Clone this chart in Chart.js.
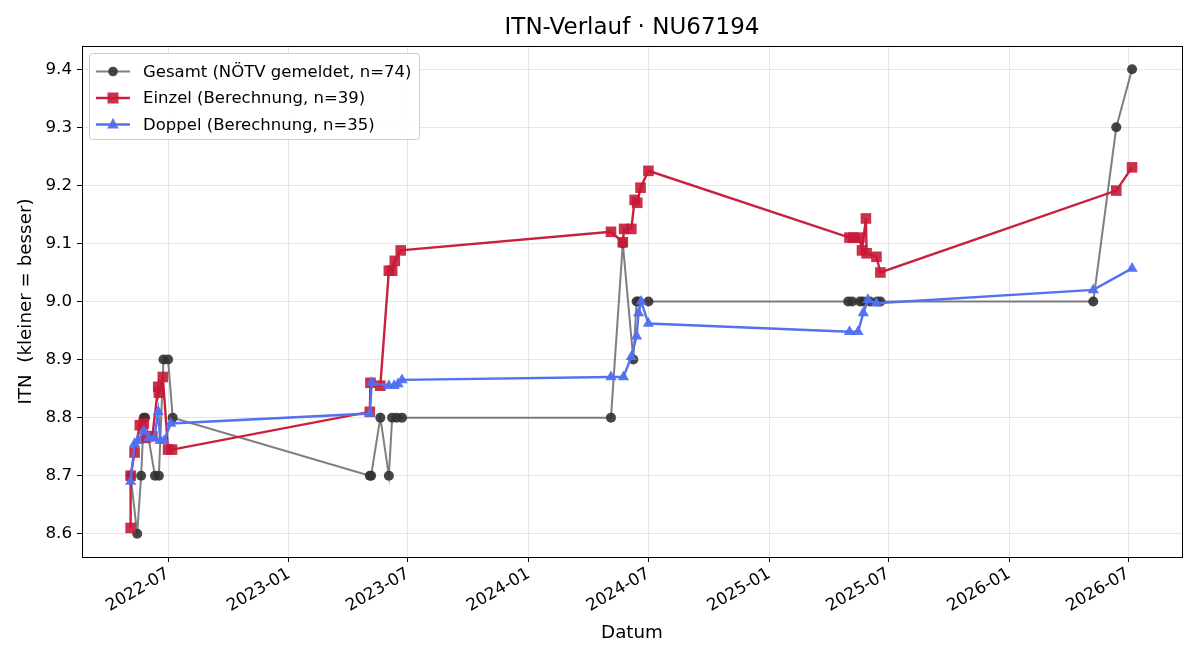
<!DOCTYPE html>
<html lang="de">
<head>
<meta charset="utf-8">
<title>ITN-Verlauf</title>
<script src="https://cdn.jsdelivr.net/npm/chart.js@4.4.1/dist/chart.umd.min.js"></script>
<style>
  html, body { margin: 0; padding: 0; background: #fff; }
  #chart { display: block; }
</style>
</head>
<body>
<canvas id="chart" width="1200" height="660"></canvas>
<script>
// Gesamt (NÖTV gemeldet)
const gesamtDates = [
  '2022-05-05', '2022-05-15', '2022-05-21', '2022-05-25', '2022-05-27', '2022-06-11', '2022-06-17',
  '2022-06-24', '2022-07-01', '2022-07-08',
  '2023-05-04', '2023-05-06', '2023-05-20', '2023-06-02', '2023-06-07', '2023-06-14', '2023-06-22',
  '2024-05-05', '2024-05-23', '2024-06-08', '2024-06-13', '2024-06-16', '2024-07-01',
  '2025-05-01', '2025-05-07', '2025-05-19', '2025-05-24', '2025-06-03', '2025-06-14', '2025-06-19',
  '2026-05-09', '2026-06-13', '2026-07-07'
];
const gesamtValues = [
  8.7, 8.6, 8.7, 8.8, 8.8, 8.7, 8.7,
  8.9, 8.9, 8.8,
  8.7, 8.7, 8.8, 8.7, 8.8, 8.8, 8.8,
  8.8, 9.1, 8.9, 9.0, 9.0, 9.0,
  9.0, 9.0, 9.0, 9.0, 9.0, 9.0, 9.0,
  9.0, 9.3, 9.4
];

// Einzel (Berechnung)
const einzelDates = [
  '2022-05-05', '2022-05-05', '2022-05-11', '2022-05-19', '2022-05-25', '2022-05-28', '2022-06-07',
  '2022-06-16', '2022-06-17', '2022-06-23', '2022-07-01', '2022-07-07',
  '2023-05-04', '2023-05-05', '2023-05-20', '2023-06-02', '2023-06-07', '2023-06-11', '2023-06-20',
  '2024-05-05', '2024-05-23', '2024-05-25', '2024-06-05', '2024-06-10', '2024-06-14', '2024-06-19', '2024-07-01',
  '2025-05-03', '2025-05-09', '2025-05-18', '2025-05-22', '2025-05-28', '2025-05-29', '2025-06-13', '2025-06-19',
  '2026-06-13', '2026-07-07'
];
const einzelValues = [
  8.61, 8.70, 8.74, 8.787, 8.79, 8.765, 8.768,
  8.853, 8.843, 8.87, 8.745, 8.745,
  8.81, 8.86, 8.855, 9.053, 9.053, 9.07, 9.088,
  9.12, 9.102, 9.125, 9.125, 9.175, 9.17, 9.196, 9.225,
  9.11, 9.11, 9.11, 9.088, 9.143, 9.083, 9.077, 9.05,
  9.191, 9.231
];

// Doppel (Berechnung)
const doppelDates = [
  '2022-05-05', '2022-05-11', '2022-05-16', '2022-05-25', '2022-06-02', '2022-06-10', '2022-06-16',
  '2022-06-19', '2022-06-25', '2022-07-05',
  '2023-05-04', '2023-05-07', '2023-06-02', '2023-06-10', '2023-06-16', '2023-06-22',
  '2024-05-05', '2024-05-24', '2024-06-05', '2024-06-13', '2024-06-16', '2024-06-20', '2024-07-01',
  '2025-05-03', '2025-05-16', '2025-05-24', '2025-05-31', '2025-06-13',
  '2026-05-09', '2026-07-07'
];
const doppelValues = [
  8.69, 8.755, 8.76, 8.777, 8.765, 8.765, 8.81,
  8.76, 8.76, 8.79,
  8.807, 8.86, 8.855, 8.855, 8.858, 8.865,
  8.87, 8.87, 8.905, 8.94, 8.98, 9.0, 8.962,
  8.948, 8.948, 8.98, 9.003, 8.997,
  9.02, 9.057
];

// Axis ticks
const xTickLabels = ['2022-07', '2023-01', '2023-07', '2024-01', '2024-07', '2025-01', '2025-07', '2026-01', '2026-07'];
const yTickValues = [8.6, 8.7, 8.8, 8.9, 9.0, 9.1, 9.2, 9.3, 9.4];

const chartTitle = 'ITN-Verlauf · NU67194';
const FONT = 'DejaVu Sans';

function toPoints(dates, values) {
  return dates.map((d, i) => ({ x: Date.parse(d), y: values[i] }));
}

function pad2(n) {
  return (n < 10 ? '0' : '') + n;
}

const series = [
  {
    label: 'Gesamt (NÖTV gemeldet, n=74)',
    line: 'rgba(95,95,95,0.8)',
    marker: 'rgba(50,50,50,0.9)',
    style: 'circle',
    radius: 5
  },
  {
    label: 'Einzel (Berechnung, n=39)',
    line: '#c8203e',
    marker: 'rgba(200,25,55,0.9)',
    style: 'rect',
    radius: 7.5
  },
  {
    label: 'Doppel (Berechnung, n=35)',
    line: '#5472ee',
    marker: 'rgba(80,112,238,0.95)',
    style: 'triangle',
    radius: 6.5
  }
];

// Title centred over the plot area, like matplotlib
const titlePlugin = {
  id: 'plotTitle',
  afterDraw(chart) {
    const { ctx, chartArea } = chart;
    ctx.save();
    ctx.fillStyle = '#000';
    ctx.font = '23px "' + FONT + '"';
    ctx.textAlign = 'center';
    ctx.textBaseline = 'middle';
    ctx.fillText(chartTitle, (chartArea.left + chartArea.right) / 2, 28);
    ctx.restore();
  }
};

// Black frame round the plot area (matplotlib spines)
const framePlugin = {
  id: 'frame',
  afterDatasetsDraw(chart) {
    const { ctx, chartArea } = chart;
    ctx.save();
    ctx.strokeStyle = '#000';
    ctx.lineWidth = 1;
    ctx.strokeRect(Math.round(chartArea.left) + 0.5, Math.round(chartArea.top) + 0.5,
      Math.round(chartArea.right - chartArea.left), Math.round(chartArea.bottom - chartArea.top));
    ctx.restore();
  }
};

// Legend box in the upper left corner
const legendPlugin = {
  id: 'boxLegend',
  afterDraw(chart) {
    const ctx = chart.ctx;
    const x0 = 89, y0 = 53, w = 330, h = 86;
    ctx.save();
    ctx.fillStyle = 'rgba(255,255,255,0.85)';
    ctx.strokeStyle = '#cccccc';
    ctx.lineWidth = 1;
    ctx.beginPath();
    ctx.roundRect(x0 + 0.5, y0 + 0.5, w, h, 3);
    ctx.fill();
    ctx.stroke();

    series.forEach((s, i) => {
      const cy = y0 + 18.5 + i * 26.5;
      ctx.strokeStyle = s.line;
      ctx.lineWidth = i === 0 ? 2 : 2.4;
      ctx.beginPath();
      ctx.moveTo(96, cy);
      ctx.lineTo(130, cy);
      ctx.stroke();

      ctx.fillStyle = s.marker;
      ctx.beginPath();
      if (s.style === 'circle') {
        ctx.arc(113, cy, 4.8, 0, Math.PI * 2);
      } else if (s.style === 'rect') {
        ctx.rect(113 - 5.5, cy - 5.5, 11, 11);
      } else {
        ctx.moveTo(113, cy - 6.5);
        ctx.lineTo(113 + 5.8, cy + 4);
        ctx.lineTo(113 - 5.8, cy + 4);
        ctx.closePath();
      }
      ctx.fill();

      ctx.fillStyle = '#000';
      ctx.font = '16.5px "' + FONT + '"';
      ctx.textBaseline = 'middle';
      ctx.textAlign = 'left';
      ctx.fillText(s.label, 143, cy + 1);
    });
    ctx.restore();
  }
};

const allPoints = [
  toPoints(gesamtDates, gesamtValues),
  toPoints(einzelDates, einzelValues),
  toPoints(doppelDates, doppelValues)
];

const ctx = document.getElementById('chart');

new Chart(ctx, {
  type: 'line',
  data: {
    datasets: series.map((s, i) => ({
      label: s.label,
      data: allPoints[i],
      borderColor: s.line,
      borderWidth: i === 0 ? 2 : 2.4,
      backgroundColor: s.marker,
      pointStyle: s.style,
      pointRadius: s.radius,
      pointBackgroundColor: s.marker,
      pointBorderColor: s.marker,
      pointBorderWidth: 0,
      tension: 0,
      fill: false,
      order: 3 - i
    }))
  },
  options: {
    responsive: false,
    animation: false,
    devicePixelRatio: 1,
    layout: {
      padding: { left: 0, right: 18, top: 46, bottom: 0 }
    },
    plugins: {
      legend: { display: false },
      tooltip: { enabled: false },
      title: { display: false }
    },
    scales: {
      x: {
        type: 'linear',
        min: Date.parse('2022-02-20'),
        max: Date.parse('2026-09-21'),
        afterBuildTicks(scale) {
          scale.ticks = xTickLabels.map(t => ({ value: Date.parse(t + '-01') }));
        },
        afterFit(scale) {
          scale.height = 103;
        },
        ticks: {
          autoSkip: false,
          minRotation: 30,
          maxRotation: 30,
          color: '#000',
          padding: 2,
          font: { family: FONT, size: 16.7 },
          callback(value) {
            const d = new Date(value);
            return d.getUTCFullYear() + '-' + pad2(d.getUTCMonth() + 1);
          }
        },
        grid: {
          color: '#e6e6e6',
          lineWidth: 1,
          tickColor: '#000',
          tickLength: 5
        },
        border: { display: true, color: '#000' },
        title: {
          display: true,
          text: 'Datum',
          color: '#000',
          font: { family: FONT, size: 18.3 },
          padding: { top: 0, bottom: 16 }
        }
      },
      y: {
        type: 'linear',
        min: 8.56,
        max: 9.44,
        afterBuildTicks(scale) {
          scale.ticks = yTickValues.map(v => ({ value: v }));
        },
        afterFit(scale) {
          scale.width = 82;
        },
        ticks: {
          color: '#000',
          padding: 5,
          font: { family: FONT, size: 16.7 },
          callback(value) {
            return value.toFixed(1);
          }
        },
        grid: {
          color: '#e6e6e6',
          lineWidth: 1,
          tickColor: '#000',
          tickLength: 5
        },
        border: { display: true, color: '#000' },
        title: {
          display: true,
          text: 'ITN  (kleiner = besser)',
          color: '#000',
          font: { family: FONT, size: 18.3 },
          padding: { top: 15, bottom: 0 }
        }
      }
    }
  },
  plugins: [framePlugin, legendPlugin, titlePlugin]
});
</script>
</body>
</html>
